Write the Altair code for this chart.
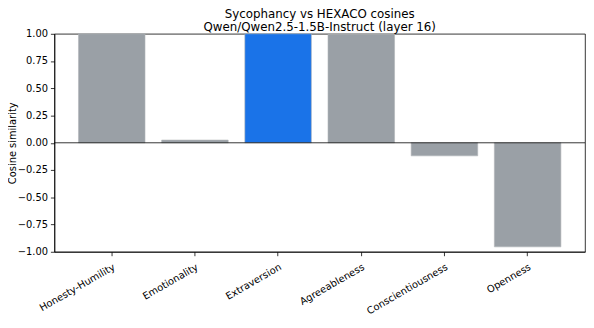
import altair as alt
import pandas as pd

traits = ["Honesty-Humility", "Emotionality", "Extraversion", "Agreeableness", "Conscientiousness", "Openness"]
cosines = [1.0, 0.025, 1.0, 0.995, -0.12, -0.955]
highlight = [False, False, True, False, False, False]
y_ticks = [-1.0, -0.75, -0.5, -0.25, 0.0, 0.25, 0.5, 0.75, 1.0]

df = pd.DataFrame({"trait": traits, "cos": cosines, "hl": highlight})

font = "DejaVu Sans"

y_axis = alt.Axis(values=y_ticks, format=".2f", grid=False, labelOverlap=False,
                  labelFlush=False, tickCount=9,
                  labelFontSize=10, labelFont=font, labelColor="#000",
                  titleFontSize=10, titleFont=font, titleFontWeight="normal",
                  titleColor="#000", titleAngle=-90, titleAlign="center",
                  titleBaseline="middle", titleX=-42, titleY=110.5,
                  tickSize=4, tickColor="#000", domainColor="#000",
                  domainWidth=0.8, tickWidth=0.8, labelPadding=3)
y_scale = alt.Scale(domain=[-1, 1], nice=False, zero=False)

bars = alt.Chart(df).mark_bar(stroke="#b0b4b8", strokeWidth=0.6).encode(
    x=alt.X("trait:N", sort=traits, title=None,
            scale=alt.Scale(paddingInner=0.2, paddingOuter=0.29),
            axis=alt.Axis(labelAngle=-30, labelAlign="right", labelBaseline="top",
                          labelFontSize=10, labelFont=font, labelColor="#000",
                          tickSize=4, tickColor="#000", domainColor="#000",
                          labelPadding=6, domainWidth=0.8, tickWidth=0.8,
                          labelOverlap=False)),
    y=alt.Y("cos:Q", title="Cosine similarity", scale=y_scale, axis=y_axis),
    color=alt.Color("hl:N", scale=alt.Scale(domain=[False, True], range=["#9aa0a6", "#1a73e8"]), legend=None),
)

zero = alt.Chart(pd.DataFrame({"cos": [0.0]})).mark_rule(color="#000", strokeWidth=0.8).encode(
    y=alt.Y("cos:Q", title="Cosine similarity", scale=y_scale, axis=y_axis))

chart = alt.layer(bars, zero).properties(
    width=538, height=221,
    title=alt.Title(["Sycophancy vs HEXACO cosines", "Qwen/Qwen2.5-1.5B-Instruct (layer 16)"],
                    fontSize=12, font=font, fontWeight="normal", color="#000",
                    anchor="middle", offset=3, lineHeight=13.5, dy=8),
    autosize=alt.AutoSizeParams(type="none"),
    padding={"left": 47, "top": 24, "right": 1, "bottom": 66},
).configure_view(stroke="#000", strokeWidth=0.8)

chart.save("out.html", embed_options={"renderer": "svg", "actions": False})
